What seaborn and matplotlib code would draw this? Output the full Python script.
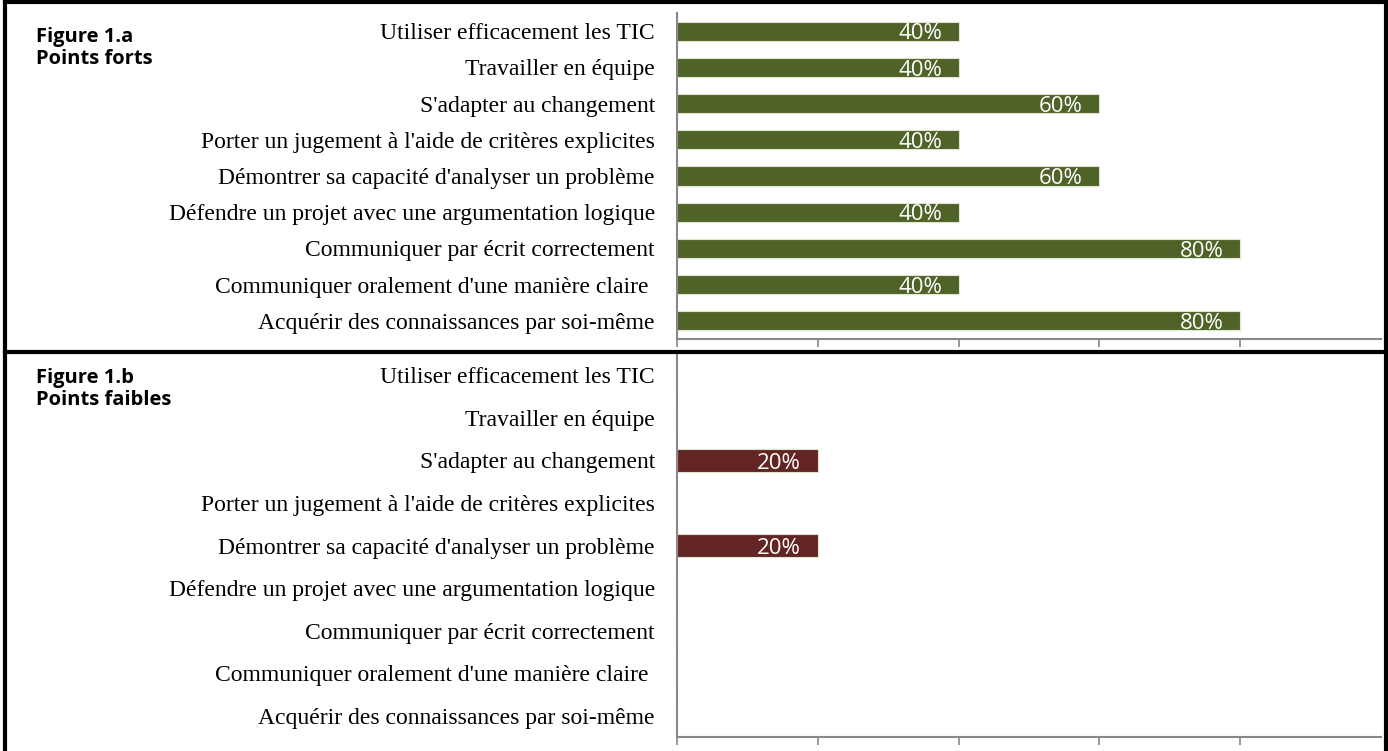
import pandas as pd
import seaborn as sns
import matplotlib.pyplot as plt
from matplotlib.lines import Line2D

# data
competences = [
    "Utiliser efficacement les TIC",
    "Travailler en équipe",
    "S'adapter au changement",
    "Porter un jugement à l'aide de critères explicites",
    "Démontrer sa capacité d'analyser un problème",
    "Défendre un projet avec une argumentation logique",
    "Communiquer par écrit correctement",
    "Communiquer oralement d'une manière claire ",
    "Acquérir des connaissances par soi-même",
]
points_forts = [40, 40, 60, 40, 60, 40, 80, 40, 80]
points_faibles = [0, 0, 20, 0, 20, 0, 0, 0, 0]
titles = ["Figure 1.a\nPoints forts", "Figure 1.b\nPoints faibles"]
colors = ["#4F6228", "#632523"]


def plot_panel(ax, values, color, title):
    df = pd.DataFrame({"competence": competences, "pct": values})
    sns.barplot(data=df, x="pct", y="competence", orient="h", color=color,
                width=0.53, edgecolor="#dfe6d0", linewidth=0.8, saturation=1, ax=ax)
    ax.set_xlim(0, 100)
    ax.set_xticks([0, 20, 40, 60, 80])
    ax.set_xticklabels([])
    ax.set_xlabel("")
    ax.set_ylabel("")
    ax.tick_params(axis="x", bottom=True, direction="out", length=6, width=1.2, color="#888888")
    ax.tick_params(axis="y", left=False, length=0, pad=16)
    for lab in ax.get_yticklabels():
        lab.set_fontfamily("Liberation Serif")
        lab.set_fontsize(17)
        lab.set_color("black")
    # hide borders
    ax.spines["right"].set_visible(False)
    ax.spines["top"].set_visible(False)
    for s in ["left", "bottom"]:
        ax.spines[s].set_color("#888888")
        ax.spines[s].set_linewidth(1.5)
    # value labels
    labels = [f"{v}%" if v > 0 else "" for v in values]
    texts = ax.bar_label(ax.containers[0], labels=labels, padding=-12,
                         color="white", fontsize=16, family="Open Sans")
    for t in texts:
        t.set_ha("right")
        t.set_va("center")
        t.xyann = (-12, -2)
    ax.figure.text(0.026, ax.get_position().y1 - 0.019, title, ha="left", va="top",
                   color="black", fontsize=14.5, fontweight="bold", family="Open Sans",
                   linespacing=1.1)


sns.set_style("white")
fig = plt.figure(figsize=(13.88, 7.51), dpi=100)
ax1 = fig.add_axes([0.4878, 0.5486, 0.5072, 0.4341])
ax2 = fig.add_axes([0.4878, 0.0186, 0.5072, 0.5100])
plot_panel(ax1, points_forts, colors[0], titles[0])
plot_panel(ax2, points_faibles, colors[1], titles[1])

# panel frames
W, H = 1388, 751
def fline(x0, y0, x1, y1, lw=3):
    fig.add_artist(Line2D([x0 / W, x1 / W], [1 - y0 / H, 1 - y1 / H], color="black",
                          linewidth=lw, solid_capstyle="projecting"))

fline(5, 2, 1386, 2)
fline(5, 2, 5, 751)
fline(1386, 2, 1386, 751)
fline(5, 352, 1386, 352)

fig.savefig("out.png", dpi=100)
